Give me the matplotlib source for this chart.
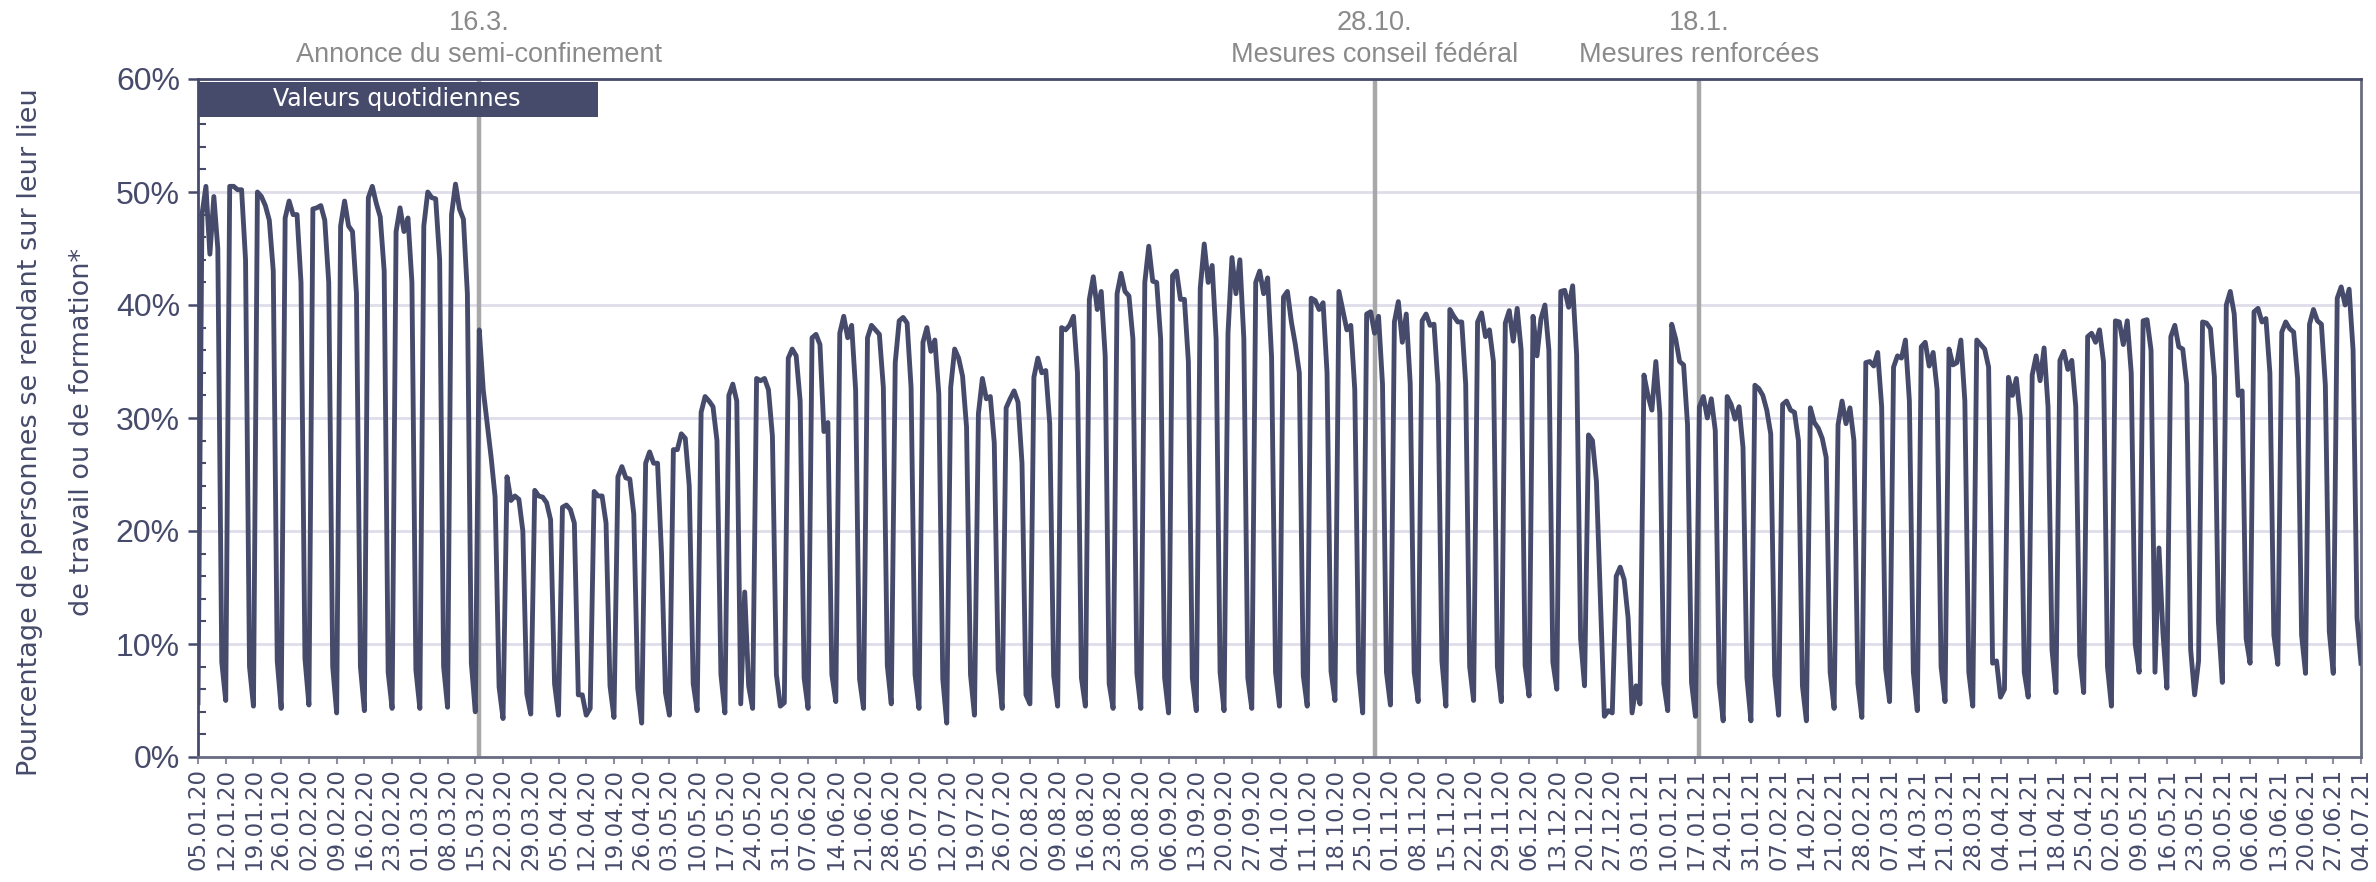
import numpy as np
import pandas as pd
import matplotlib
matplotlib.use("Agg")
import matplotlib.pyplot as plt
from matplotlib.patches import Rectangle
from matplotlib.ticker import MultipleLocator, FuncFormatter

# Daily share (%) of people going to their place of work / education.
# One row per week, Sunday -> Saturday, starting on 05.01.2020.
start_date = "2020-01-05"

weeks_jan_mar_2020 = [
    [4.8, 48.0, 50.5, 44.5, 49.6, 45.0, 8.4],
    [5.0, 50.5, 50.5, 50.2, 50.2, 44.0, 8.0],
    [4.5, 50.0, 49.6, 48.8, 47.5, 43.0, 8.5],
    [4.3, 47.7, 49.2, 48.0, 48.0, 42.0, 8.7],
    [4.6, 48.5, 48.6, 48.8, 47.5, 42.0, 8.0],
    [3.9, 47.0, 49.2, 47.0, 46.5, 41.0, 8.0],
    [4.1, 49.5, 50.5, 49.0, 47.8, 43.0, 7.5],
    [4.3, 46.5, 48.6, 46.5, 47.7, 42.0, 7.7],
    [4.3, 47.0, 50.0, 49.5, 49.4, 44.0, 8.0],
    [4.4, 48.0, 50.7, 48.5, 47.6, 41.0, 8.3],
    [4.0, 37.8, 32.5, 29.5, 26.5, 23.0, 6.2],
    [3.4, 24.8, 22.7, 23.1, 22.8, 20.0, 5.6],
    [3.8, 23.6, 23.1, 23.0, 22.5, 21.0, 6.5],
]

weeks_apr_jun_2020 = [
    [3.7, 22.1, 22.3, 21.9, 20.7, 5.5, 5.5],
    [3.7, 4.3, 23.5, 23.1, 23.1, 20.7, 6.3],
    [3.5, 24.8, 25.7, 24.7, 24.6, 21.5, 6.1],
    [3.0, 26.0, 27.0, 26.0, 26.0, 18.0, 5.7],
    [3.7, 27.2, 27.2, 28.6, 28.2, 24.0, 6.5],
    [4.1, 30.5, 31.9, 31.5, 31.0, 28.0, 7.3],
    [3.9, 32.0, 33.0, 31.5, 4.7, 14.6, 6.3],
    [4.3, 33.5, 33.3, 33.5, 32.5, 28.4, 7.3],
    [4.5, 4.8, 35.3, 36.1, 35.5, 31.5, 7.0],
    [4.3, 37.1, 37.4, 36.5, 28.8, 29.6, 7.3],
    [4.9, 37.5, 39.0, 37.1, 38.2, 32.5, 6.9],
    [4.3, 37.1, 38.2, 37.8, 37.4, 32.7, 8.1],
    [4.7, 34.9, 38.6, 38.9, 38.4, 32.7, 7.3],
]

weeks_jul_sep_2020 = [
    [4.3, 36.7, 38.0, 35.9, 36.9, 32.1, 6.9],
    [3.0, 32.7, 36.1, 35.3, 33.7, 29.2, 7.3],
    [3.7, 30.4, 33.5, 31.7, 31.9, 27.8, 7.7],
    [4.3, 30.9, 31.7, 32.4, 31.4, 26.0, 5.5],
    [4.7, 33.6, 35.3, 34.0, 34.2, 29.5, 7.2],
    [4.5, 38.0, 37.8, 38.2, 39.0, 34.0, 7.0],
    [4.5, 40.5, 42.5, 39.6, 41.2, 35.5, 6.5],
    [4.3, 41.0, 42.8, 41.2, 40.8, 37.0, 7.4],
    [4.3, 42.0, 45.2, 42.1, 42.0, 37.0, 7.0],
    [3.9, 42.6, 43.0, 40.5, 40.5, 35.0, 7.0],
    [4.1, 41.5, 45.4, 42.0, 43.5, 37.0, 7.5],
    [4.1, 37.5, 44.2, 41.0, 44.0, 37.0, 7.0],
    [4.3, 42.0, 43.0, 41.0, 42.4, 35.4, 7.5],
]

weeks_oct_dec_2020 = [
    [4.5, 40.7, 41.2, 38.5, 36.5, 34.0, 7.2],
    [4.5, 40.6, 40.4, 39.6, 40.2, 34.0, 7.6],
    [5.0, 41.2, 39.5, 37.8, 38.2, 32.5, 7.5],
    [3.9, 39.2, 39.4, 37.5, 39.0, 33.0, 7.5],
    [4.6, 38.5, 40.3, 36.7, 39.2, 33.0, 7.5],
    [4.9, 38.6, 39.2, 38.2, 38.3, 33.0, 8.5],
    [4.5, 39.6, 39.0, 38.5, 38.5, 33.0, 8.0],
    [5.0, 38.5, 39.3, 37.2, 37.8, 35.0, 8.0],
    [4.9, 38.4, 39.5, 36.8, 39.7, 36.0, 8.1],
    [5.4, 39.0, 35.5, 38.8, 40.0, 36.0, 8.4],
    [6.0, 41.2, 41.3, 39.8, 41.7, 35.6, 10.5],
    [6.3, 28.5, 28.0, 24.4, 14.0, 3.6, 4.1],
    [3.9, 16.0, 16.8, 15.7, 12.3, 3.9, 6.3],
]

weeks_jan_mar_2021 = [
    [4.7, 33.8, 32.0, 30.7, 35.0, 30.4, 6.5],
    [4.1, 38.3, 37.0, 35.0, 34.7, 29.4, 6.6],
    [3.6, 31.0, 31.9, 30.0, 31.7, 28.9, 6.5],
    [3.2, 31.9, 31.2, 29.9, 31.0, 27.4, 7.0],
    [3.2, 32.9, 32.6, 32.0, 30.7, 28.6, 7.2],
    [3.7, 31.2, 31.5, 30.7, 30.5, 28.0, 6.3],
    [3.2, 30.9, 29.6, 29.1, 28.2, 26.5, 7.5],
    [4.3, 29.4, 31.5, 29.5, 30.9, 28.0, 6.5],
    [3.5, 34.9, 35.0, 34.6, 35.8, 31.0, 7.8],
    [4.9, 34.5, 35.5, 35.3, 36.9, 31.5, 7.5],
    [4.1, 36.3, 36.7, 34.6, 35.8, 32.5, 8.0],
    [4.9, 36.1, 34.7, 34.9, 36.9, 31.5, 7.5],
    [4.5, 36.9, 36.5, 36.1, 34.5, 8.3, 8.5],
]

weeks_apr_jul_2021 = [
    [5.3, 6.0, 33.6, 32.0, 33.5, 30.0, 7.5],
    [5.3, 33.8, 35.5, 33.3, 36.2, 31.0, 9.5],
    [5.7, 35.1, 35.9, 34.3, 35.1, 31.0, 9.0],
    [5.7, 37.2, 37.5, 36.7, 37.8, 35.0, 8.0],
    [4.5, 38.6, 38.5, 36.5, 38.6, 34.0, 10.0],
    [7.5, 38.6, 38.7, 36.0, 7.5, 18.5, 11.0],
    [6.1, 37.2, 38.2, 36.3, 36.1, 33.0, 9.5],
    [5.5, 8.5, 38.5, 38.4, 37.9, 33.6, 12.0],
    [6.6, 40.0, 41.2, 39.2, 32.0, 32.4, 10.5],
    [8.3, 39.4, 39.7, 38.5, 38.8, 34.0, 10.8],
    [8.2, 37.6, 38.5, 37.9, 37.6, 33.5, 10.8],
    [7.4, 38.3, 39.6, 38.6, 38.3, 32.9, 11.1],
    [7.4, 40.6, 41.6, 40.0, 41.4, 36.0, 12.3],
]
last_day = [8.3]  # 04.07.2021

event_dates = ["2020-03-16", "2020-10-28", "2021-01-18"]
event_days = ["16.3.", "28.10.", "18.1."]
event_labels = ["Annonce du semi-confinement", "Mesures conseil fédéral",
                "Mesures renforcées"]

LINE = "#474b6b"
GRID = "#dedde9"
EVENT = "#a8a8a8"
NARROW = ["Liberation Sans", "DejaVu Sans"]

values = np.concatenate([
    np.ravel(weeks_jan_mar_2020), np.ravel(weeks_apr_jun_2020),
    np.ravel(weeks_jul_sep_2020), np.ravel(weeks_oct_dec_2020),
    np.ravel(weeks_jan_mar_2021), np.ravel(weeks_apr_jul_2021), last_day,
])
dates = pd.date_range(start_date, periods=len(values), freq="D")

fig = plt.figure(figsize=(23.76, 8.82), dpi=100)
ax = fig.add_axes([198 / 2376, 1 - 757 / 882, 2163 / 2376, 678 / 882])

ax.plot(dates, values, color=LINE, lw=3.5, zorder=3)

for d in event_dates:
    ax.axvline(pd.Timestamp(d), color=EVENT, lw=3.2, zorder=2)

trans = ax.get_xaxis_transform()
for d, day, label in zip(event_dates, event_days, event_labels):
    x = pd.Timestamp(d)
    ax.text(x, 1.083, day, transform=trans, ha="center", va="center",
            fontsize=19.5, color="#8a8a8a", family=NARROW, clip_on=False)
    ax.text(x, 1.035, label, transform=trans, ha="center", va="center",
            fontsize=19.5, color="#8a8a8a", family=NARROW, clip_on=False)

ax.set_xlim(dates[0], dates[-1])
ax.set_ylim(0, 60)

weekly = pd.date_range(dates[0], dates[-1], freq="7D")
ax.set_xticks(weekly)
ax.set_xticklabels([d.strftime("%d.%m.%y") for d in weekly], rotation=90)
ax.tick_params(axis="x", length=5, width=1.5, color="#8d8fa0",
               labelsize=16.5, labelcolor=LINE, pad=3)

ax.yaxis.set_major_locator(MultipleLocator(10))
ax.yaxis.set_minor_locator(MultipleLocator(2))
ax.yaxis.set_major_formatter(FuncFormatter(lambda v, p: f"{v:.0f}%"))
ax.tick_params(axis="y", which="major", direction="out", length=7, width=1.8,
               color=LINE, labelcolor=LINE, labelsize=23, pad=6)
ax.tick_params(axis="y", which="minor", direction="in", length=6, width=1.5,
               color=LINE)
for lab in ax.get_yticklabels():
    lab.set_family(NARROW)

ax.grid(axis="y", which="major", color=GRID, lw=2, zorder=0)
ax.set_axisbelow(True)

for side in ["left", "top"]:
    ax.spines[side].set_color(LINE)
    ax.spines[side].set_linewidth(2)
for side in ["bottom", "right"]:
    ax.spines[side].set_color("#6a6c82")
    ax.spines[side].set_linewidth(2)

# title box in the upper left corner
ax.add_patch(Rectangle((0, 0.944), 0.185, 0.052, transform=ax.transAxes,
                       facecolor=LINE, edgecolor="none", zorder=4))
ax.text(0.092, 0.970, "Valeurs quotidiennes", transform=ax.transAxes,
        ha="center", va="center", color="white", fontsize=17, zorder=5)

fig.text(56 / 2376, 1 - 432 / 882,
         "Pourcentage de personnes se rendant sur leur lieu\n"
         "de travail ou de formation*",
         rotation=90, ha="center", va="center", multialignment="center",
         fontsize=19.5, color=LINE, linespacing=2.3)

fig.savefig("out.png", dpi=100)
